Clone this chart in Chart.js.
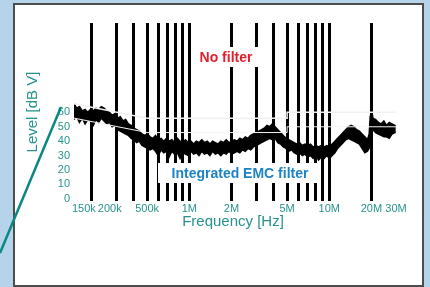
<!DOCTYPE html>
<html>
<head>
<meta charset="utf-8">
<script src="https://cdn.jsdelivr.net/npm/chart.js@4.4.0/dist/chart.umd.min.js"></script>
<style>
  html, body { margin: 0; padding: 0; }
  body { width: 430px; height: 287px; background: #b5d3e9; position: relative; overflow: hidden; }
  #panel { position: absolute; left: 13px; top: 3px; width: 411px; height: 284px; box-sizing: border-box;
           background: #fff; border: 2px solid #4d4d4d; }
  #myChart { position: absolute; left: 0; top: 0; }
</style>
</head>
<body>
<div id="panel"></div>
<canvas id="myChart" width="430" height="287"></canvas>
<script>
// frequency points in kHz
const freqKHz = [150,157,164,172,180,188,197,206,215,225,235,246,257,269,281,294,307,321,336,351,
  367,384,402,420,439,459,480,502,525,549,574,600,628,657,687,718,751,785,821,859,
  898,939,982,1027,1074,1123,1174,1228,1284,1343,1404,1468,1535,1605,1679,1756,1836,1920,2008,2100,
  2196,2296,2401,2511,2626,2746,2871,3002,3139,3283,3433,3590,3754,3926,4105,4293,4489,4694,4909,5133,
  5368,5613,5870,6138,6419,6712,7019,7340,7676,8027,8394,8778,9179,9599,10038,10497,10977,11479,12004,12553,
  13127,13727,14355,15012,15698,16416,17167,17952,18773,19300,19632,20100,20529,21468,22450,23476,24550,25673,26847,28075,
  29359,29900];

// upper and lower edge of the measured trace (dB)
const upper = [66,63,64,61,62,60,62,61,63,62,64,63,61,60,58,59,56,57,54,55,
  52,51,49,48,47,45,44,45,43,42,44,41,42,40,42,40,41,39,42,40,
  39,41,39,40,38,40,39,41,39,40,38,40,39,38,40,39,41,39,40,41,
  40,42,41,43,42,44,45,46,47,48,49,51,50,52,50,48,46,44,42,41,
  40,39,38,39,37,38,37,38,36,37,36,37,36,37,36,38,40,42,44,46,
  48,50,51,50,48,47,45,43,41,45,57,61,56,55,53,52,54,51,53,52,
  51,50];
const lower = [55,57,53,56,52,55,54,51,55,53,56,54,52,53,50,51,48,47,46,45,
  44,42,41,39,40,37,36,35,34,35,33,30,34,32,33,29,33,31,32,28,
  32,31,30,33,31,32,30,33,31,32,30,33,31,32,30,32,31,33,31,32,
  33,32,34,33,35,34,36,37,38,39,40,41,42,41,42,39,38,36,35,33,
  34,32,31,32,30,31,29,30,28,30,27,29,28,30,28,30,32,35,37,39,
  41,42,41,40,39,38,35,32,33,35,44,47,48,46,45,44,43,43,42,45,
  46,46];

// limit lines (kHz, dB)
const qpLimitF = [150, 500, 5000, 5000, 30000];
const qpLimit = [66, 56, 56, 60, 60];
const avLimitF = [150, 500, 5000, 5000, 30000];
const avLimit = [56, 46, 46, 50, 50];

// vertical bars and tick labels
const barFreqKHz = [200,300,400,500,600,700,800,900,1000,2000,3000,4000,5000,6000,7000,8000,9000,10000,20000];
const xTickKHz = [150,200,500,1000,2000,5000,10000,20000,30000];
const xTickLabels = ['150k','200k','500k','1M','2M','5M','10M','20M','30M'];
const yTicks = [0,10,20,30,40,50,60];

const teal = '#26938e';

function pts(fs, vs) {
  return fs.map((f, i) => ({ x: f * 1000, y: vs[i] }));
}

const overlay = {
  id: 'overlay',
  afterDraw(chart) {
    const ctx = chart.ctx;
    const xs = chart.scales.x;
    const area = chart.chartArea;
    ctx.save();

    // x tick labels, pushed right when they would overlap
    ctx.font = '11px "Liberation Sans", Arial, sans-serif';
    ctx.fillStyle = teal;
    ctx.textBaseline = 'middle';
    ctx.textAlign = 'left';
    let lastEnd = -999;
    xTickKHz.forEach((f, i) => {
      const w = ctx.measureText(xTickLabels[i]).width;
      let x0 = xs.getPixelForValue(f * 1000) - w / 2;
      if (i === 0) x0 = area.left - 2;
      if (x0 < lastEnd + 2) x0 = lastEnd + 2;
      ctx.fillText(xTickLabels[i], x0, area.bottom + 8);
      lastEnd = x0 + w;
    });

    // axis titles
    ctx.font = '15px "Liberation Sans", Arial, sans-serif';
    ctx.textAlign = 'center';
    ctx.fillText('Frequency [Hz]', 233, 222);
    ctx.save();
    ctx.translate(33, 112);
    ctx.rotate(-Math.PI / 2);
    ctx.fillText('Level [dB V]', 0, 0);
    ctx.restore();

    // labels with white boxes
    ctx.font = 'bold 14px "Liberation Sans", Arial, sans-serif';
    ctx.fillStyle = '#ffffff';
    ctx.fillRect(195, 47, 63, 20);
    ctx.fillRect(158, 163, 160, 20);
    ctx.fillStyle = '#e5202e';
    ctx.fillText('No filter', 226, 58);
    ctx.fillStyle = '#1c84c6';
    ctx.fillText('Integrated EMC filter', 240, 174);

    // pointer line
    ctx.strokeStyle = '#0b8784';
    ctx.lineWidth = 2.5;
    ctx.beginPath();
    ctx.moveTo(0, 253);
    ctx.lineTo(61, 107);
    ctx.stroke();
    ctx.restore();
  }
};

const config = {
  type: 'line',
  data: {
    datasets: [
      {
        data: pts(qpLimitF, qpLimit),
        borderColor: '#f1f1f1',
        borderWidth: 1.5,
        pointRadius: 0,
        fill: false
      },
      {
        data: pts(avLimitF, avLimit),
        borderColor: '#f4f4f4',
        borderWidth: 1,
        pointRadius: 0,
        fill: false
      },
      {
        data: pts(freqKHz, upper),
        borderColor: '#000',
        borderWidth: 1.5,
        pointRadius: 0,
        fill: 3,
        backgroundColor: '#000'
      },
      {
        data: pts(freqKHz, lower),
        borderColor: '#000',
        borderWidth: 1.5,
        pointRadius: 0,
        fill: false
      }
    ]
  },
  options: {
    responsive: false,
    animation: false,
    layout: { padding: { left: 0, top: 23, right: 34, bottom: 0 } },
    plugins: { legend: { display: false }, tooltip: { enabled: false } },
    scales: {
      x: {
        type: 'logarithmic',
        min: 150000,
        max: 30000000,
        afterBuildTicks: s => { s.ticks = barFreqKHz.map(f => ({ value: f * 1000 })); },
        afterFit: s => { s.height = 86; },
        ticks: { display: false },
        border: { display: false },
        grid: { color: '#000', lineWidth: 3, drawTicks: false }
      },
      y: {
        min: -1.5,
        max: 122,
        afterBuildTicks: s => { s.ticks = yTicks.map(v => ({ value: v })); },
        afterFit: s => { s.width = 74; },
        border: { display: false },
        grid: { display: false, drawTicks: false },
        ticks: {
          color: teal,
          padding: 4,
          font: { family: '"Liberation Sans", Arial, sans-serif', size: 11 }
        }
      }
    }
  },
  plugins: [overlay]
};

var myChart = new Chart(document.getElementById('myChart'), config);
</script>
</body>
</html>
